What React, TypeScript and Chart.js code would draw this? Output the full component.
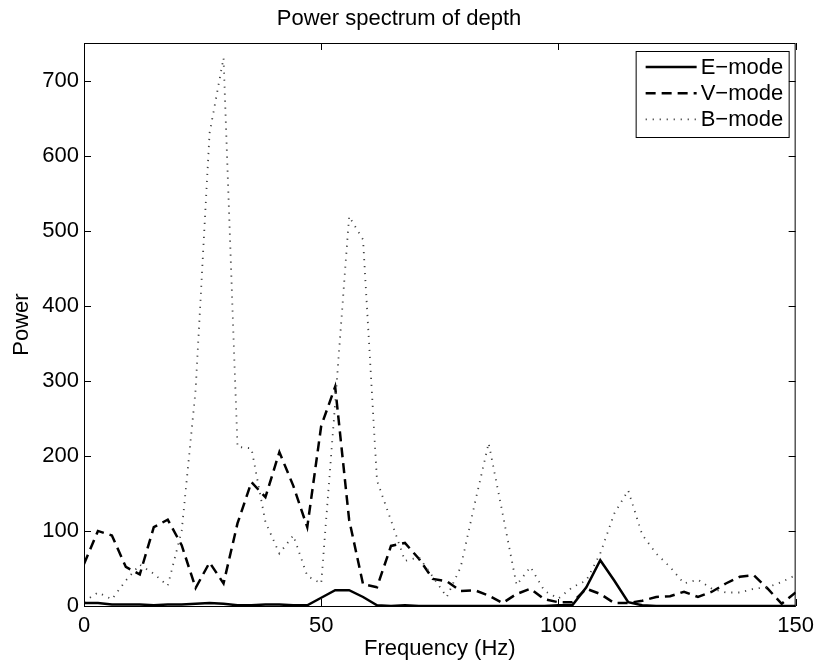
import React, { useEffect, useRef } from "react";
import { Chart, registerables } from "chart.js";

Chart.register(...registerables);

const freq = [
  0, 2.94, 5.88, 8.82, 11.76, 14.71, 17.65, 20.59, 23.53, 26.47,
  29.41, 32.35, 35.29, 38.24, 41.18, 44.12, 47.06, 50, 52.94, 55.88,
  58.82, 61.76, 64.71, 67.65, 70.59, 73.53, 76.47, 79.41, 82.35, 85.29,
  88.24, 91.18, 94.12, 97.06, 100, 102.94, 105.88, 108.82, 111.76, 114.71,
  117.65, 120.59, 123.53, 126.47, 129.41, 132.35, 135.29, 138.24, 141.18, 144.12,
  147.06, 150,
];

const eMode = [
  4, 4, 2, 2, 2, 1, 2, 2, 3, 4,
  3, 1, 1, 2, 2, 1, 1, 11, 21, 21,
  12, 1, 0, 1, 0, 0, 0, 0, 0, 0,
  0, 0, 0, 0, 1, 1, 25, 61, 34, 5,
  1, 0, 0, 0, 0, 0, 0, 0, 0, 0,
  0, 0,
];

const vMode = [
  56, 100, 94, 52, 42, 105, 115, 81, 24, 58,
  30, 110, 165, 145, 205, 160, 105, 240, 292, 115,
  29, 25, 80, 84, 63, 36, 33, 20, 21, 14,
  4, 16, 23, 9, 5, 5, 23, 16, 4, 4,
  7, 12, 13, 19, 12, 19, 30, 39, 41, 23,
  3, 18,
];

const bMode = [
  6, 18, 9, 34, 55, 43, 27, 100, 288, 630,
  730, 212, 210, 112, 70, 94, 40, 30, 270, 519,
  488, 167, 114, 60, 65, 39, 12, 52, 136, 217,
  123, 28, 52, 20, 10, 25, 34, 70, 123, 154,
  95, 70, 52, 30, 35, 23, 18, 18, 23, 25,
  32, 41,
];

const seriesNames = ["E\u2212mode", "V\u2212mode", "B\u2212mode"];
const xTicks = [0, 50, 100, 150];
const yTicks = [0, 100, 200, 300, 400, 500, 600, 700];

const FONT = "'Liberation Sans', Arial, Helvetica, sans-serif";

const toPoints = (ys: number[]) => freq.map((f, i) => ({ x: f, y: ys[i] }));

const framePlugin = {
  id: "frame",
  afterDatasetsDraw(chart: any) {
    const { ctx, chartArea, scales } = chart;
    const { left, right, top, bottom } = chartArea;
    const xs = scales.x;
    const ys = scales.y;
    ctx.save();
    ctx.strokeStyle = "#000";
    ctx.lineWidth = 1;
    ctx.setLineDash([]);
    ctx.strokeRect(left + 0.5, top + 0.5, right - left - 1, bottom - top);
    const tl = 7;
    ctx.beginPath();
    for (const v of xTicks) {
      const px = Math.round(xs.getPixelForValue(v)) + 0.5;
      ctx.moveTo(px, bottom);
      ctx.lineTo(px, bottom - tl);
      ctx.moveTo(px, top);
      ctx.lineTo(px, top + tl);
    }
    for (const v of yTicks) {
      const py = Math.round(ys.getPixelForValue(v)) + 0.5;
      ctx.moveTo(left, py);
      ctx.lineTo(left + tl, py);
      ctx.moveTo(right, py);
      ctx.lineTo(right - tl, py);
    }
    ctx.stroke();

    // legend
    const bx = right - 160;
    const by = top + 8;
    const bw = 153;
    const bh = 86;
    ctx.fillStyle = "#fff";
    ctx.fillRect(bx, by, bw, bh);
    ctx.strokeStyle = "#000";
    ctx.lineWidth = 1;
    ctx.strokeRect(bx + 0.5, by + 0.5, bw, bh);
    ctx.font = `22px ${FONT}`;
    ctx.textBaseline = "middle";
    ctx.textAlign = "left";
    chart.data.datasets.forEach((ds: any, i: number) => {
      const ly = by + 16 + i * 26.2;
      ctx.save();
      ctx.strokeStyle = ds.borderColor;
      ctx.lineWidth = ds.borderWidth;
      ctx.setLineDash(ds.borderDash || []);
      ctx.beginPath();
      ctx.moveTo(bx + 10, ly);
      ctx.lineTo(bx + 61, ly);
      ctx.stroke();
      ctx.restore();
      ctx.fillStyle = "#000";
      ctx.fillText(seriesNames[i], bx + 65, ly + 1);
    });
    ctx.restore();
  },
};

export default function App() {
  const ref = useRef<HTMLCanvasElement | null>(null);
  useEffect(() => {
    document.body.style.margin = "0";
    const canvas = ref.current;
    if (!canvas) return;
    const chart = new Chart(canvas, {
      type: "line",
      data: {
        datasets: [
          {
            label: seriesNames[0],
            data: toPoints(eMode),
            borderColor: "#000",
            borderWidth: 2.5,
            pointRadius: 0,
            tension: 0,
            order: 3,
            fill: false,
          },
          {
            label: seriesNames[1],
            data: toPoints(vMode),
            borderColor: "#000",
            borderWidth: 2.5,
            borderDash: [10, 6],
            pointRadius: 0,
            tension: 0,
            order: 2,
            fill: false,
          },
          {
            label: seriesNames[2],
            data: toPoints(bMode),
            borderColor: "#444",
            borderWidth: 1.8,
            borderDash: [1.2, 5.8],
            pointRadius: 0,
            tension: 0,
            order: 1,
            fill: false,
          },
        ],
      },
      options: {
        animation: false,
        responsive: false,
        maintainAspectRatio: false,
        layout: { padding: { left: 0, right: 23, top: 0, bottom: 0 } },
        plugins: {
          legend: { display: false },
          tooltip: { enabled: false },
          title: {
            display: true,
            text: "Power spectrum of depth",
            color: "#000",
            font: { family: FONT, size: 22, weight: "normal" },
            padding: { top: 6, bottom: 10.6 },
          },
        },
        scales: {
          x: {
            type: "linear",
            min: 0,
            max: 150,
            grid: { display: false, drawTicks: false },
            border: { display: false },
            ticks: {
              stepSize: 50,
              padding: 7,
              color: "#000",
              font: { family: FONT, size: 22 },
              maxRotation: 0,
            },
            title: {
              display: true,
              text: "Frequency (Hz)",
              color: "#000",
              font: { family: FONT, size: 22 },
              padding: { top: 0, bottom: 6.3 },
            },
            afterFit: (s: any) => {
              s.height = 62;
            },
          },
          y: {
            type: "linear",
            min: 0,
            max: 750,
            grid: { display: false, drawTicks: false },
            border: { display: false },
            ticks: {
              stepSize: 100,
              includeBounds: false,
              padding: 5,
              color: "#000",
              font: { family: FONT, size: 22 },
            },
            title: {
              display: true,
              text: "Power",
              color: "#000",
              font: { family: FONT, size: 22 },
              padding: { top: 8.8, bottom: 0 },
            },
            afterFit: (s: any) => {
              s.width = 84;
            },
          },
        },
      },
      plugins: [framePlugin],
    });
    return () => chart.destroy();
  }, []);
  return (
    <div style={{ position: "absolute", left: 0, top: 0, width: 821, height: 668, background: "#fff" }}>
      <canvas ref={ref} width={821} height={668} style={{ width: 821, height: 668, display: "block" }} />
    </div>
  );
}
